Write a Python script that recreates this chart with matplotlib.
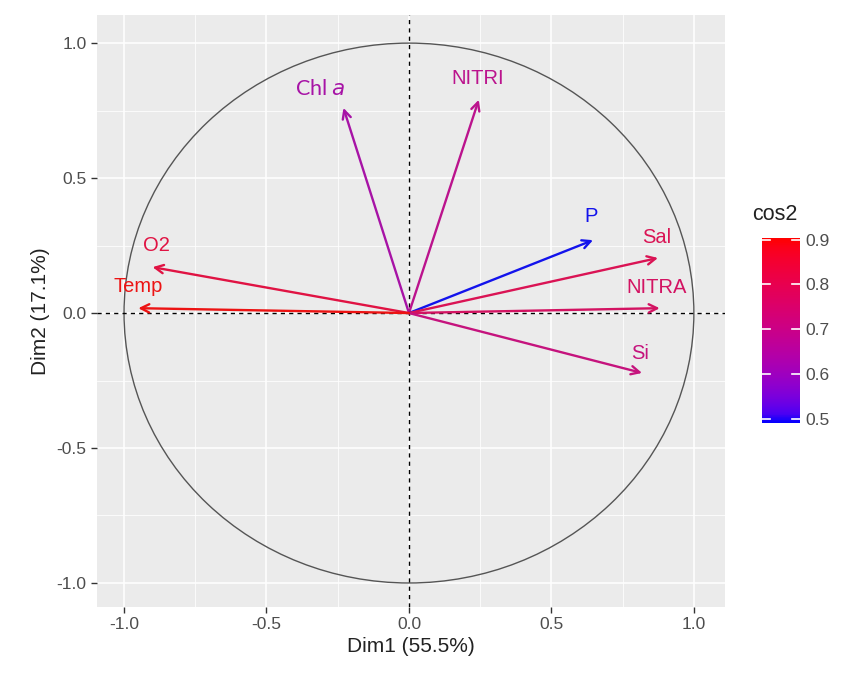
import numpy as np
import matplotlib
matplotlib.use("Agg")
import matplotlib.pyplot as plt
from matplotlib.colors import LinearSegmentedColormap, Normalize
from matplotlib.patches import Ellipse

plt.rcParams['font.family'] = ['Liberation Sans', 'DejaVu Sans']

# variable coordinates on Dim1 / Dim2
variables = ["Chl a", "NITRI", "P", "Sal", "NITRA", "Si", "O2", "Temp"]
dim1 = [-0.23, 0.245, 0.646, 0.874, 0.88, 0.818, -0.90, -0.95]
dim2 = [0.76, 0.79, 0.27, 0.204, 0.018, -0.222, 0.17, 0.018]
labels = ["Chl $\\mathit{a}$", "NITRI", "P", "Sal", "NITRA", "Si", "O2", "Temp"]
label_x = [-0.31, 0.24, 0.64, 0.87, 0.87, 0.81, -0.885, -0.95]
label_y = [0.83, 0.87, 0.356, 0.28, 0.096, -0.15, 0.25, 0.10]
cb_ticks = [0.5, 0.6, 0.7, 0.8, 0.9]


def srgb_to_lab(rgb):
    rgb = np.asarray(rgb, float)
    lin = np.where(rgb <= 0.04045, rgb / 12.92, ((rgb + 0.055) / 1.055) ** 2.4)
    m = np.array([[0.4124, 0.3576, 0.1805],
                  [0.2126, 0.7152, 0.0722],
                  [0.0193, 0.1192, 0.9505]])
    xyz = m @ lin / np.array([0.95047, 1.0, 1.08883])
    f = np.where(xyz > 0.008856, np.cbrt(xyz), 7.787 * xyz + 16 / 116)
    return np.array([116 * f[1] - 16, 500 * (f[0] - f[1]), 200 * (f[1] - f[2])])


def lab_to_srgb(lab):
    L, a, b = lab
    fy = (L + 16) / 116
    f = np.array([fy + a / 500, fy, fy - b / 200])
    xyz = np.where(f ** 3 > 0.008856, f ** 3, (f - 16 / 116) / 7.787)
    xyz = xyz * np.array([0.95047, 1.0, 1.08883])
    minv = np.array([[3.2406, -1.5372, -0.4986],
                     [-0.9689, 1.8758, 0.0415],
                     [0.0557, -0.2040, 1.0570]])
    lin = np.clip(minv @ xyz, 0, 1)
    rgb = np.where(lin <= 0.0031308, 12.92 * lin, 1.055 * lin ** (1 / 2.4) - 0.055)
    return np.clip(rgb, 0, 1)


# ggplot-like blue -> red gradient, interpolated in Lab
lab_lo = srgb_to_lab([0, 0, 1])
lab_hi = srgb_to_lab([1, 0, 0])
stops = [lab_to_srgb(lab_lo + t * (lab_hi - lab_lo)) for t in np.linspace(0, 1, 21)]
cmap = LinearSegmentedColormap.from_list("bluered", stops)

cos2 = np.array(dim1) ** 2 + np.array(dim2) ** 2
norm = Normalize(vmin=cos2.min(), vmax=cos2.max())


def soft(c, k=0.15):
    # the reference is a soft jpeg, thin strokes look a bit duller
    c = np.array(c[:3])
    return tuple(c * (1 - k) + 0.5 * k)


fig = plt.figure(figsize=(8.41, 6.74), dpi=100)
ax = fig.add_axes([0.1153, 0.0994, 0.7467, 0.8783])
ax.set_facecolor("#EBEBEB")
ax.set_xlim(-1.095, 1.109)
ax.set_ylim(-1.089, 1.104)

major = [-1.0, -0.5, 0.0, 0.5, 1.0]
minor = [-0.75, -0.25, 0.25, 0.75]
ax.set_xticks(major)
ax.set_yticks(major)
ax.set_xticks(minor, minor=True)
ax.set_yticks(minor, minor=True)
ax.grid(which="major", color="white", linewidth=1.1)
ax.grid(which="minor", color="white", linewidth=0.55)
ax.set_axisbelow(True)
for s in ax.spines.values():
    s.set_visible(False)
ax.tick_params(which="major", colors="#333333", labelcolor="#4D4D4D",
               labelsize=12.5, length=4, width=1)
ax.tick_params(which="minor", length=0)
ax.set_xticklabels(["%.1f" % v for v in major])
ax.set_yticklabels(["%.1f" % v for v in major])

ax.add_patch(Ellipse((0, 0), 2, 2, fill=False, edgecolor="#555555", linewidth=1.0))
ax.axhline(0, color="black", linestyle=(0, (3, 3)), linewidth=1)
ax.axvline(0, color="black", linestyle=(0, (3, 3)), linewidth=1)

for i in range(len(variables)):
    col = soft(cmap(norm(cos2[i])))
    ax.annotate("", xy=(dim1[i], dim2[i]), xytext=(0, 0),
                arrowprops=dict(arrowstyle="->,head_length=0.6,head_width=0.3",
                                color=col, lw=1.7, shrinkA=0, shrinkB=0))
    if variables[i] == "Chl a":
        ax.text(label_x[i], label_y[i], labels[i], color=col, fontsize=15.5,
                ha="center", va="center", family=["Lato", "DejaVu Sans"])
    else:
        ax.text(label_x[i], label_y[i], labels[i], color=col, fontsize=14.5,
                ha="center", va="center")

ax.set_xlabel("Dim1 (55.5%)", fontsize=15, color="#222222", labelpad=3)
ax.set_ylabel("Dim2 (17.1%)", fontsize=15, color="#222222", labelpad=5)

cax = fig.add_axes([0.906, 0.372, 0.045, 0.2745])
sm = plt.cm.ScalarMappable(norm=norm, cmap=cmap)
cb = fig.colorbar(sm, cax=cax, ticks=cb_ticks)
cb.outline.set_visible(False)
cb.ax.tick_params(length=0, labelsize=12.5, labelcolor="#4D4D4D", pad=4)
cb.ax.set_yticklabels(["%.1f" % t for t in cb_ticks])
for t in cb_ticks:
    cax.plot([0, 0.2], [t, t], color="white", lw=1.2, transform=cax.get_yaxis_transform())
    cax.plot([0.8, 1.0], [t, t], color="white", lw=1.2, transform=cax.get_yaxis_transform())
fig.text(0.894, 0.666, "cos2", fontsize=15.5, color="#222222", ha="left", va="bottom")

fig.savefig("out.png", dpi=100)
